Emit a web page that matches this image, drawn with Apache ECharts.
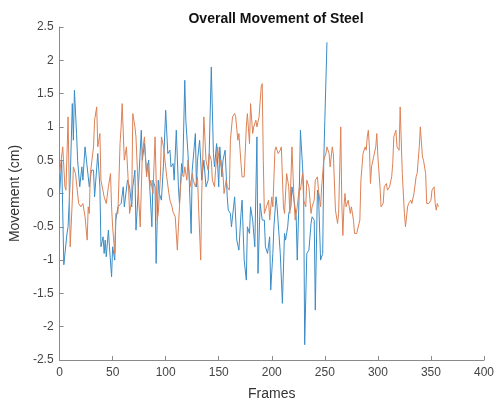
<!DOCTYPE html>
<html>
<head>
<meta charset="utf-8">
<script src="https://cdn.jsdelivr.net/npm/echarts@6/dist/echarts.min.js"></script>
<style>
html,body{margin:0;padding:0;background:#fff;}
#chart{width:497px;height:406px;}
</style>
</head>
<body>
<div id="chart"></div>
<script>
const titleText = 'Overall Movement of Steel';
const xName = 'Frames';
const yName = 'Movement (cm)';

const blueFrames = [0,2,4,7,8,10,12,13,14,16,17,19,21,22,24,27,28,30,32,33,36,38,39,41,42,43,44,46,47,49,50,52,53,55,58,60,61,64,66,68,69,71,72,74,77,78,80,82,84,85,87,88,90,91,93,94,96,98,100,102,104,105,107,108,110,112,113,115,116,118,119,121,122,124,125,128,129,130,132,134,136,138,140,141,143,145,146,148,150,151,153,154,156,158,159,161,162,164,165,167,169,171,172,174,176,177,179,180,182,184,186,187,189,191,193,194,196,198,199,201,202,204,205,208,210,212,213,215,216,218,219,221,223,224,226,227,229,230,231,233,235,237,238,240,241,243,244,246,248,249,250,252];
const blueValues = [0.0,0.5,-1.07,-0.6,-0.5,0.2,1.35,0.8,1.55,0.9,0.5,0.1,0.4,0.2,0.7,0.25,0.1,0.35,0.35,-0.05,0.6,0.1,-0.8,-0.65,-0.9,-0.7,-0.95,-0.55,-0.8,-1.25,-0.8,-1.0,-0.4,-0.2,-0.15,0.1,-0.2,0.2,0.1,-0.2,0.1,0.35,-0.55,0.0,0.95,0.5,0.75,0.3,0.5,0.1,-0.5,0.2,0.1,-1.05,0.2,0.0,-0.1,0.45,1.25,0.6,0.65,0.4,0.45,0.2,0.95,0.1,-0.15,0.45,0.3,1.7,1.1,0.6,0.3,-0.6,0.35,0.9,0.1,0.5,0.8,0.2,0.5,0.1,0.2,0.6,1.9,0.6,0.4,0.75,0.1,0.7,0.25,0.5,0.65,-0.05,-0.25,-0.3,-0.5,-0.2,-0.05,-0.7,-0.85,-0.3,-0.1,-1.0,-1.3,-0.5,-0.6,-0.2,-0.4,-0.8,0.85,-1.2,-0.15,-0.4,-0.4,-0.8,-0.9,-0.65,-1.45,-0.9,-0.5,-0.05,-0.2,-0.9,-1.65,-0.6,-0.7,-0.5,-0.3,-0.2,0.1,-0.1,-0.35,-1.0,0.1,0.95,0.4,0.1,-2.27,-0.9,-0.85,-0.45,-0.35,-0.4,-1.75,0.05,0.0,-1.0,-0.9,0.5,1.1,2.27];

const orangeFrames = [0,3,5,6,8,10,12,13,15,18,20,22,24,26,27,28,29,32,33,35,36,38,39,42,44,46,48,49,50,52,53,55,57,58,59,61,63,65,66,68,69,71,72,74,76,78,80,82,83,85,86,88,90,92,93,95,96,98,100,101,103,104,106,107,109,111,112,114,115,117,118,120,121,123,125,126,128,130,131,133,134,136,138,140,141,143,144,146,147,149,151,152,154,155,157,158,160,161,163,165,166,168,169,171,172,174,176,177,179,180,182,183,185,186,188,190,191,192,193,195,197,198,200,201,203,204,206,208,209,211,212,214,216,217,219,221,222,224,226,227,229,230,232,233,235,237,238,240,241,243,244,246,247,249,251,252,254,255,257,258,260,262,263,265,266,267,268,269,270,272,274,275,277,278,280,281,283,284,286,288,289,290,291,292,293,294,296,298,299,300,302,303,305,306,308,309,311,313,314,315,317,318,320,321,323,325,326,328,329,331,332,334,336,337,339,340,342,343,345,346,348,350,351,353,354,355,356,357];
const orangeValues = [0.3,0.7,0.1,0.05,1.15,-0.8,-0.1,0.4,0.3,-0.15,-0.2,-0.15,-0.35,-0.7,-0.2,-0.3,0.3,0.7,1.1,1.3,0.7,0.9,0.2,-0.05,-0.15,0.1,0.3,-0.2,-0.5,-0.9,-0.3,-0.3,0.75,1.0,1.35,0.5,0.7,0.1,-0.3,-0.1,1.2,1.0,0.85,0.1,-0.5,0.6,0.85,0.25,0.45,0.1,0.2,0.0,0.85,-0.4,-0.3,0.25,0.85,0.7,0.4,0.25,0.0,-0.1,-0.2,-0.28,-0.35,-0.85,-0.5,0.1,0.3,0.25,0.4,0.2,0.5,0.1,0.3,0.2,0.1,0.25,-0.2,-1.0,0.0,1.15,0.5,0.35,0.6,0.5,0.2,0.1,0.35,0.7,0.4,0.5,0.3,0.0,0.2,0.1,0.05,0.8,1.15,1.2,1.15,0.8,0.9,0.45,0.25,0.25,1.0,1.2,0.75,1.35,0.9,1.0,1.1,1.0,1.15,1.6,1.65,0.5,-0.3,-0.2,-0.1,-0.4,-0.05,-0.2,0.65,0.7,0.6,0.65,0.7,-0.2,-0.3,0.3,0.1,-0.3,0.7,-0.1,-0.4,-0.2,0.1,0.05,0.3,-0.1,-0.2,0.2,0.1,-0.3,-0.2,-0.1,0.2,0.25,0.05,-0.2,0.1,0.5,0.6,0.7,0.6,0.4,0.7,0.6,-0.25,-0.45,-0.3,1.0,-0.15,-0.63,-0.2,0.0,-0.2,-0.1,-0.3,-0.2,-0.4,-0.6,-0.6,-0.6,-0.4,0.2,0.6,0.7,0.65,0.85,0.95,0.7,0.15,0.4,0.55,0.7,0.9,0.55,0.1,-0.2,-0.15,0.1,0.15,0.05,0.1,0.25,0.45,0.85,0.95,0.7,0.65,1.3,0.3,-0.3,-0.5,-0.2,-0.15,-0.1,-0.15,0.0,0.25,0.3,0.7,1.0,0.55,0.5,0.3,-0.15,-0.15,-0.1,0.05,0.1,-0.15,-0.25,-0.15,-0.2];

const xTicks = {min: 0, max: 400, interval: 50};
const yTicks = {min: -2.5, max: 2.5, interval: 0.5};

function zip(xs, ys) { return xs.map((x, i) => [x, ys[i]]); }

const chart = echarts.init(document.getElementById('chart'), null, {renderer: 'canvas'});
const font = '"Liberation Sans", Arial, Helvetica, sans-serif';
const axisCommon = {
  axisLine: {show: true, onZero: false, lineStyle: {color: '#8a8a8a', width: 1}},
  axisTick: {show: true, inside: true, length: 4, lineStyle: {color: '#8a8a8a'}},
  splitLine: {show: false},
  nameTextStyle: {fontFamily: font, fontSize: 14, color: '#333'},
};
chart.setOption({
  animation: false,
  backgroundColor: '#fff',
  title: {
    text: titleText, left: 271, top: 7, textAlign: 'center',
    textStyle: {fontFamily: font, fontSize: 14, fontWeight: 'bold', color: '#111'}
  },
  grid: {left: 58, right: 13, top: 27, bottom: 43, containLabel: false},
  xAxis: Object.assign({}, axisCommon, {
    type: 'value', min: xTicks.min, max: xTicks.max, interval: xTicks.interval,
    name: xName, nameLocation: 'middle', nameGap: 27,
    axisLabel: {fontFamily: font, fontSize: 12, color: '#444', margin: 7}
  }),
  yAxis: Object.assign({}, axisCommon, {
    type: 'value', min: yTicks.min, max: yTicks.max, interval: yTicks.interval,
    name: yName, nameLocation: 'middle', nameGap: 29, nameRotate: 90,
    axisLabel: {fontFamily: font, fontSize: 12, color: '#444', margin: 6}
  }),
  series: [
    {type: 'line', data: zip(blueFrames, blueValues), showSymbol: false,
     lineStyle: {color: '#3b8cc6', width: 1}, itemStyle: {color: '#3b8cc6'}},
    {type: 'line', data: zip(orangeFrames, orangeValues), showSymbol: false,
     lineStyle: {color: '#dc8256', width: 1}, itemStyle: {color: '#dc8256'}}
  ]
});
</script>
</body>
</html>
